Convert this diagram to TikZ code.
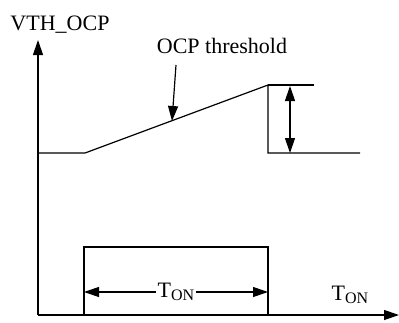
\documentclass[tikz,border=0pt]{standalone}
\usepackage{fontspec}
\setmainfont{Liberation Serif}
\usetikzlibrary{arrows.meta}

\tikzset{
  plotline/.style={black, line width=1.2pt},
  bigtip/.style={-{Triangle[length=15pt,width=10pt]}},
  twotip/.style={{Triangle[length=15pt,width=10pt]}-{Triangle[length=15pt,width=10pt]}},
  lbl/.style={inner sep=0pt, anchor=base, font=\fontsize{22}{26}\selectfont}
}
\newcommand{\tonlabel}{T\raisebox{-3pt}{\fontsize{16}{16}\selectfont ON}}

\begin{document}
\begin{tikzpicture}[x=1pt, y=-1pt]
\useasboundingbox (0,0) rectangle (399,322);
% axes
\coordinate (org) at (38,315);
\coordinate (ytop) at (38,40);
\coordinate (xend) at (399,315);
\draw [plotline, bigtip] (org) -- (ytop);
\draw [plotline, bigtip] (org) -- (xend);
\node [lbl] (ylab) at (60,30) {VTH\_OCP};
\node [lbl] (xlab) at (350,300) {\tonlabel};
% threshold curve
\coordinate (start) at (38,153);
\coordinate (rampa) at (85,153);
\coordinate (rampb) at (268,85);
\coordinate (drop) at (268,153);
\coordinate (topend) at (314,85);
\coordinate (lowend) at (360,153);
\draw [plotline] (start) -- (rampa) -- (rampb) -- (drop) -- (lowend);
\draw [plotline] (rampb) -- (topend);
\draw [plotline, twotip] (290,86) -- (290,153);
\node [lbl] (thr) at (222,53) {OCP threshold};
\coordinate (ptr) at (172,121);
\draw [plotline, bigtip] (176,65) -- (ptr);
% on pulse
\coordinate (pl) at (84,315);
\coordinate (pr) at (268,315);
\draw [plotline] (pl) -- (84,247) -- (268,247) -- (pr);
\node [lbl, anchor=center, inner sep=2pt] (ton) at (176,292) {\tonlabel};
\draw [plotline, bigtip] (ton.west) -- (84,292);
\draw [plotline, bigtip] (ton.east) -- (268,292);
\end{tikzpicture}
\end{document}
